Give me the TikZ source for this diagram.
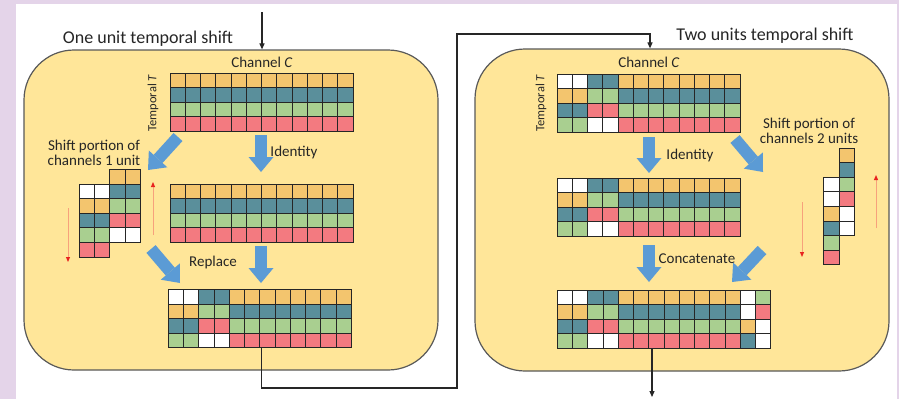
\documentclass[tikz,border=0pt]{standalone}
\usepackage{fontspec}
\setmainfont{Carlito}
\usetikzlibrary{arrows.meta}

\definecolor{lav}{HTML}{E4D4E9}
\definecolor{panelfill}{HTML}{FFE699}
\definecolor{panelline}{HTML}{595959}
\definecolor{cO}{HTML}{F3C56E}
\definecolor{cB}{HTML}{5A8F9B}
\definecolor{cG}{HTML}{A9CF90}
\definecolor{cR}{HTML}{F37A80}
\definecolor{cW}{HTML}{FFFFFF}
\definecolor{blockblue}{HTML}{5B9BD5}
\definecolor{shiftline}{HTML}{F7A17C}
\definecolor{shifthead}{HTML}{E8231F}
\definecolor{ink}{HTML}{262626}

\newcommand\cellw{15.25}
\newcommand\cellh{14.6}
% one column of cells at (x,y), colours listed top to bottom
\newcommand\cellcol[3]{%
  \foreach \cc [count=\ii from 0] in {#3}{%
    \filldraw[cell, fill=\cc] ({#1}, {#2+\ii*\cellh}) rectangle ++(\cellw,\cellh);}}
% several identical columns side by side
\newcommand\cellrun[4]{%
  \foreach \kk in {1,...,#3}{\cellcol{#1+(\kk-1)*\cellw}{#2}{#4}}}

\tikzset{
  cell/.style={draw=black!85, line width=0.8pt},
  panel/.style={draw=panelline, fill=panelfill, line width=1.2pt,
    rounded corners=50pt, inner sep=0pt},
  gridframe/.style={inner sep=0pt, anchor=north west},
  title/.style={text=ink, font=\fontsize{18}{20}\selectfont},
  label/.style={text=ink, font=\fontsize{15}{15.5}\selectfont, align=center},
  axislabel/.style={text=ink, font=\fontsize{12.5}{14}\selectfont, rotate=90},
  flow/.style={draw=ink, line width=1.1pt, -{Triangle[length=6pt,width=5pt]}},
  blockarrow/.style={draw=blockblue, line width=12pt,
    -{Triangle[length=15pt,width=25pt,line width=0pt]}},
  shiftarrow/.style={draw=shiftline, line width=1pt,
    -{Triangle[length=5pt,width=4pt,color=shifthead]}},
}

\begin{document}
\begin{tikzpicture}[x=1pt, y=-1pt]
\useasboundingbox (0,0) rectangle (899,399);
% page background
\fill[lav] (0,0) rectangle (899,399);
\fill[white] (16,4) rectangle (897,399);

% the two stages
\node[panel, minimum width=414pt, minimum height=320pt] (P1) at (231,210) {};
\node[panel, minimum width=414pt, minimum height=322pt] (P2) at (682,210) {};

\node[title] (t1) at (148,39) {One unit temporal shift};
\node[title] (t2) at (765,36) {Two units temporal shift};

% ---------- one unit shift ----------
\node[label] (c1) at (262,62) {Channel \textit{C}};
\node[axislabel] (a1) at (153,103) {Temporal \textit{T}};

\cellrun{170}{73}{12}{cO,cB,cG,cR}
\node[gridframe, minimum width=183pt, minimum height=58.4pt] (L1) at (170,73) {};

\cellrun{170}{184}{12}{cO,cB,cG,cR}
\node[gridframe, minimum width=183pt, minimum height=58.4pt] (L2) at (170,184) {};

\cellrun{79.3}{184}{2}{cW,cO,cB,cG,cR}
\cellrun{79.3+2*\cellw}{169.4}{2}{cO,cB,cG,cR,cW}
\node[gridframe, minimum width=61pt, minimum height=88pt] (LS) at (79.3,169.4) {};

\cellrun{168.3}{289.3}{2}{cW,cO,cB,cG}
\cellrun{168.3+2*\cellw}{289.3}{2}{cB,cG,cR,cW}
\cellrun{168.3+4*\cellw}{289.3}{8}{cO,cB,cG,cR}
\node[gridframe, minimum width=183pt, minimum height=58.4pt] (L3) at (168.3,289.3) {};

\node[label] (id1) at (294,152) {Identity};
\node[label] (sh1) at (94,153) {Shift portion of\\channels 1 unit};
\node[label] (rep) at (213,262) {Replace};

\coordinate (b1s) at (261,135);  \coordinate (b1e) at (261,172);
\coordinate (b2s) at (178,137);  \coordinate (b2e) at (148,170);
\coordinate (b3s) at (151,249);  \coordinate (b3e) at (180,283);
\coordinate (b4s) at (261,246);  \coordinate (b4e) at (261,283);
\draw[blockarrow] (b1s) -- (b1e);
\draw[blockarrow] (b2s) -- (b2e);
\draw[blockarrow] (b3s) -- (b3e);
\draw[blockarrow] (b4s) -- (b4e);

\coordinate (r1s) at (68,208);  \coordinate (r1e) at (68,262);
\coordinate (r2s) at (153,235); \coordinate (r2e) at (153,182);
\draw[shiftarrow] (r1s) -- (r1e);
\draw[shiftarrow] (r2s) -- (r2e);

% ---------- two units shift ----------
\node[label] (c2) at (649,62) {Channel \textit{C}};
\node[axislabel] (a2) at (541,103) {Temporal \textit{T}};

\cellrun{557}{74}{2}{cW,cO,cB,cG}
\cellrun{557+2*\cellw}{74}{2}{cB,cG,cR,cW}
\cellrun{557+4*\cellw}{74}{8}{cO,cB,cG,cR}
\node[gridframe, minimum width=183pt, minimum height=58.4pt] (R1) at (557,74) {};

\cellrun{557}{178}{2}{cW,cO,cB,cG}
\cellrun{557+2*\cellw}{178}{2}{cB,cG,cR,cW}
\cellrun{557+4*\cellw}{178}{8}{cO,cB,cG,cR}
\node[gridframe, minimum width=183pt, minimum height=58.4pt] (R2) at (557,178) {};

\cellcol{839}{148}{cO,cB,cG,cR,cW,cW}
\cellcol{839-\cellw}{177.2}{cW,cW,cO,cB,cG,cR}
\node[gridframe, minimum width=30.5pt, minimum height=117pt] (RS) at (823.75,148) {};

\cellrun{557.3}{290}{2}{cW,cO,cB,cG}
\cellrun{557.3+2*\cellw}{290}{2}{cB,cG,cR,cW}
\cellrun{557.3+4*\cellw}{290}{8}{cO,cB,cG,cR}
\cellcol{557.3+12*\cellw}{290}{cW,cW,cO,cB}
\cellcol{557.3+13*\cellw}{290}{cG,cR,cW,cW}
\node[gridframe, minimum width=213.5pt, minimum height=58.4pt] (R3) at (557.3,290) {};

\node[label] (id2) at (690,155) {Identity};
\node[label] (sh2) at (809,131) {Shift portion of\\channels 2 units};
\node[label] (cat) at (697,259) {Concatenate};

\coordinate (d1s) at (649,137);  \coordinate (d1e) at (649,173);
\coordinate (d2s) at (735,139);  \coordinate (d2e) at (763,172);
\coordinate (d3s) at (649,245);  \coordinate (d3e) at (649,282);
\coordinate (d4s) at (762,250);  \coordinate (d4e) at (732,282);
\draw[blockarrow] (d1s) -- (d1e);
\draw[blockarrow] (d2s) -- (d2e);
\draw[blockarrow] (d3s) -- (d3e);
\draw[blockarrow] (d4s) -- (d4e);

\coordinate (q1s) at (802,202); \coordinate (q1e) at (802,257);
\coordinate (q2s) at (876,228); \coordinate (q2e) at (876,175);
\draw[shiftarrow] (q1s) -- (q1e);
\draw[shiftarrow] (q2s) -- (q2e);

% ---------- data flow between the stages ----------
\coordinate (in) at (262,12);
\coordinate (k1) at (457,388);
\coordinate (k2) at (650,34);
\coordinate (out) at (652,397);
\draw[flow] (in) -- (in |- P1.north);
\draw[flow] ([xshift=1.5pt]L3.south) |- (k1) |- (k2) -- (k2 |- P2.north);
\draw[flow] (out |- R3.south) -- (out);
\end{tikzpicture}
\end{document}
